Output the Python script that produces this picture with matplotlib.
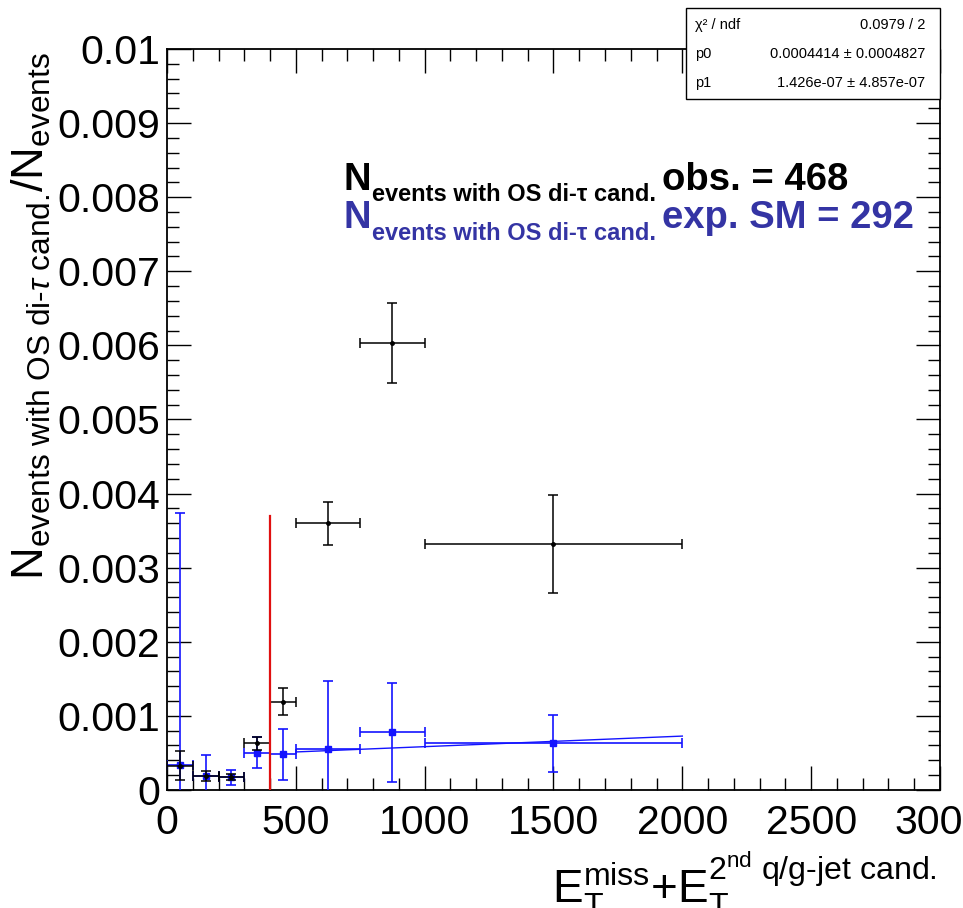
import numpy as np
import matplotlib
matplotlib.use("Agg")
import matplotlib.pyplot as plt
from matplotlib.ticker import MultipleLocator, FuncFormatter
from matplotlib.patches import Rectangle

plt.rcParams['font.family'] = ['Liberation Sans', 'DejaVu Sans']
plt.rcParams['mathtext.fontset'] = 'custom'
plt.rcParams['mathtext.rm'] = 'Liberation Sans'
plt.rcParams['mathtext.it'] = 'Liberation Sans:italic'
plt.rcParams['mathtext.bf'] = 'Liberation Sans:bold'

# observed (black)
obs_x = [50, 150, 250, 350, 450, 625, 875, 1500]
obs_xerr = [50, 50, 50, 50, 50, 125, 125, 500]
obs_y = [0.00033, 0.00019, 0.000175, 0.00063, 0.00119, 0.00360, 0.00603, 0.00332]
obs_yerr = [0.00019, 0.00007, 0.00004, 0.00009, 0.00018, 0.00029, 0.00054, 0.00066]

# expected SM (blue)
exp_x = [50, 150, 250, 350, 450, 625, 875, 1500]
exp_xerr = [50, 50, 50, 50, 50, 125, 125, 500]
exp_y = [0.000336, 0.000188, 0.000171, 0.000502, 0.00048, 0.000547, 0.000776, 0.000628]
exp_yerr = [0.0034, 0.00028, 0.0001, 0.00021, 0.00034, 0.00092, 0.00067, 0.00038]

# linear fit to expected
fit_x = [500, 2000]
fit_y = [0.000513, 0.000727]

cut_x = 400
cut_top = 0.0037

stat_names = ['χ² / ndf', 'p0', 'p1']
stat_vals = ['0.0979 / 2', '0.0004414 ± 0.0004827', '1.426e-07 ± 4.857e-07']

n_obs = 468
n_exp = 292

fig = plt.figure(figsize=(9.63, 9.08), dpi=100)
ax = fig.add_axes([0.1734, 0.1300, 0.8027, 0.8161])

blue = '#1414ff'
ax.errorbar(exp_x, exp_y, xerr=exp_xerr, yerr=exp_yerr, fmt='s', color=blue,
            ms=5, lw=1.2, capsize=3.5, capthick=1.2, zorder=3)
ax.plot(fit_x, fit_y, color=blue, lw=1.0, zorder=3)
ax.errorbar(obs_x, obs_y, xerr=obs_xerr, yerr=obs_yerr, fmt='o', color='black',
            ms=2.5, lw=1.1, capsize=3.5, capthick=1.1, zorder=4)
ax.plot([cut_x, cut_x], [0, cut_top], color='#e01010', lw=1.6, zorder=5)

ax.set_xlim(0, 3000)
ax.set_ylim(0, 0.01)
ax.xaxis.set_major_locator(MultipleLocator(500))
ax.xaxis.set_minor_locator(MultipleLocator(100))
ax.yaxis.set_major_locator(MultipleLocator(0.001))
ax.yaxis.set_minor_locator(MultipleLocator(0.0002))
ax.yaxis.set_major_formatter(FuncFormatter(lambda v, p: '%g' % round(v, 6)))
ax.xaxis.set_major_formatter(FuncFormatter(lambda v, p: '%g' % v))
ax.tick_params(which='both', direction='in', top=True, right=True, width=1.0)
ax.tick_params(which='major', length=17, labelsize=29.5)
ax.tick_params(axis='y', which='major', pad=5)
ax.tick_params(axis='x', which='major', pad=10)
ax.tick_params(which='minor', length=8.5)
for s in ax.spines.values():
    s.set_linewidth(1.3)

ax.text(-0.175, 0.996,
        r'$\text{N}_{\text{events with OS di-}\tau\text{ cand.}}\text{/N}_{\text{events}}$',
        rotation=90, ha='center', va='top', fontsize=32.5, transform=ax.transAxes,
        clip_on=False)

fig.text(937 / 963, 1 - 903 / 908,
         r'$\text{E}_{\text{T}}^{\text{miss}}\text{+E}_{\text{T}}^{\text{2}^{\text{nd}}\text{ q/g-jet cand.}}$',
         ha='right', va='baseline', fontsize=33)

# annotations
for ypos, col, tail in [(0.81, 'black', 'obs. = %d' % n_obs),
                        (0.758, '#3434a4', 'exp. SM = %d' % n_exp)]:
    t1 = ax.text(0.228, ypos, 'N', transform=ax.transAxes, fontsize=27.5,
                 weight='bold', color=col, va='baseline')
    t2 = ax.annotate('events with OS di-τ cand.', xy=(1, 0), xycoords=t1,
                     xytext=(1, -6), textcoords='offset points', fontsize=17,
                     weight='bold', color=col, va='bottom')
    ax.annotate(tail, xy=(1, 0), xycoords=(t2, t1), xytext=(4, 0),
                textcoords='offset points', fontsize=27.5, weight='bold',
                color=col, va='bottom')

# stats box
fig.add_artist(Rectangle((686 / 963, 1 - 99 / 908), 254 / 963, 91 / 908,
                         transform=fig.transFigure, facecolor='white',
                         edgecolor='black', lw=1.0, zorder=10))
for i, (nm, val) in enumerate(zip(stat_names, stat_vals)):
    yc = 1 - (25 + 29 * i) / 908
    fig.text(695 / 963, yc, nm, ha='left', va='center', fontsize=10.5, zorder=11)
    fig.text(925 / 963, yc, val, ha='right', va='center', fontsize=10.5, zorder=11)

fig.savefig('out.png', dpi=100)
